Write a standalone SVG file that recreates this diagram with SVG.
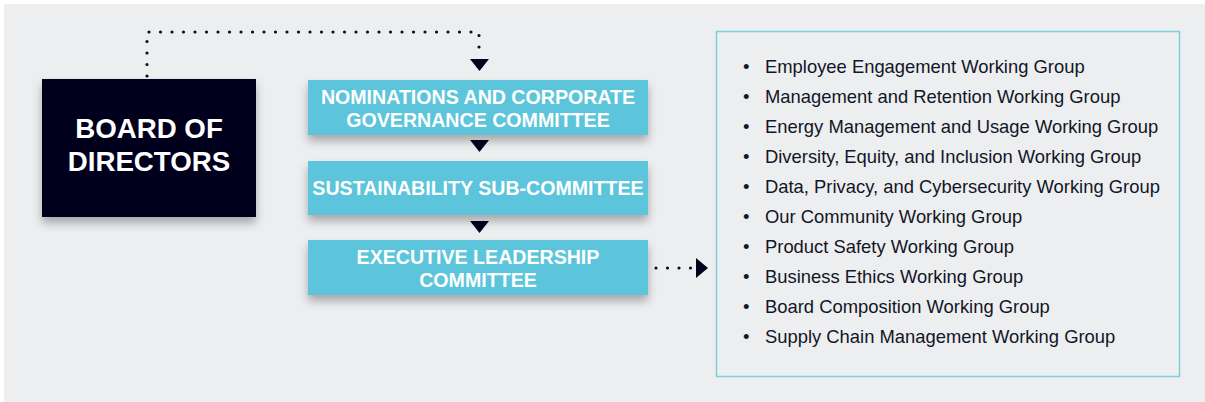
<svg xmlns="http://www.w3.org/2000/svg" width="1205" height="402" viewBox="0 0 1205 402">
<defs>
<filter id="sh" x="-20%" y="-20%" width="140%" height="160%">
<feDropShadow dx="0" dy="6" stdDeviation="5" flood-color="#000" flood-opacity="0.3"/>
</filter>
</defs>
<style>
.dot{fill:none;stroke:#0a0d24;stroke-width:3.2;stroke-linecap:round;stroke-dasharray:0 11.5}
.tri{fill:#01041F}
.cm{fill:#5BC5DB}
.ct{font-family:"Liberation Sans",Arial,sans-serif;font-weight:bold;font-size:19.6px;fill:#fff;text-anchor:middle}
.bt{font-family:"Liberation Sans",Arial,sans-serif;font-weight:bold;font-size:27.7px;fill:#fff;text-anchor:middle}
.li{font-family:"Liberation Sans",Arial,sans-serif;font-size:18.4px;fill:#121626}
</style>
<rect x="0" y="0" width="1205" height="402" fill="#ffffff"/>
<rect x="4" y="4" width="1201" height="398" fill="#EDEEF0"/>
<g id="connectors">
<path class="dot" d="M147 76 V32 H479 V54"/>
<polygon class="tri" points="470,59 489,59 479.5,71"/>
<polygon class="tri" points="470,140 489,140 479.5,152"/>
<polygon class="tri" points="470,221 489,221 479.5,233"/>
<path class="dot" d="M656 268 H692"/>
<polygon class="tri" points="696,258 708,268 696,278"/>
</g>
<g id="board">
<rect x="42" y="79" width="214" height="138" fill="#01041F" filter="url(#sh)"/>
<text class="bt" x="149" y="138">BOARD OF</text>
<text class="bt" x="149" y="171">DIRECTORS</text>
</g>
<g id="nominations">
<rect class="cm" x="308" y="80" width="340" height="55" filter="url(#sh)"/>
<text class="ct" x="478" y="104">NOMINATIONS AND CORPORATE</text>
<text class="ct" x="478" y="127">GOVERNANCE COMMITTEE</text>
</g>
<g id="sustainability">
<rect class="cm" x="308" y="161" width="340" height="54" filter="url(#sh)"/>
<text class="ct" x="478" y="195">SUSTAINABILITY SUB-COMMITTEE</text>
</g>
<g id="executive">
<rect class="cm" x="308" y="240" width="340" height="55" filter="url(#sh)"/>
<text class="ct" x="478" y="264">EXECUTIVE LEADERSHIP</text>
<text class="ct" x="478" y="287">COMMITTEE</text>
</g>
<g id="working-groups">
<rect x="716.5" y="31.5" width="463" height="345" fill="none" stroke="#7DD0E0" stroke-width="1.5"/>
<g class="li">
<text x="743" y="73">•</text><text x="765" y="73">Employee Engagement Working Group</text>
<text x="743" y="103">•</text><text x="765" y="103">Management and Retention Working Group</text>
<text x="743" y="133">•</text><text x="765" y="133">Energy Management and Usage Working Group</text>
<text x="743" y="163">•</text><text x="765" y="163">Diversity, Equity, and Inclusion Working Group</text>
<text x="743" y="193">•</text><text x="765" y="193">Data, Privacy, and Cybersecurity Working Group</text>
<text x="743" y="223">•</text><text x="765" y="223">Our Community Working Group</text>
<text x="743" y="253">•</text><text x="765" y="253">Product Safety Working Group</text>
<text x="743" y="283">•</text><text x="765" y="283">Business Ethics Working Group</text>
<text x="743" y="313">•</text><text x="765" y="313">Board Composition Working Group</text>
<text x="743" y="343">•</text><text x="765" y="343">Supply Chain Management Working Group</text>
</g>
</g>
</svg>
